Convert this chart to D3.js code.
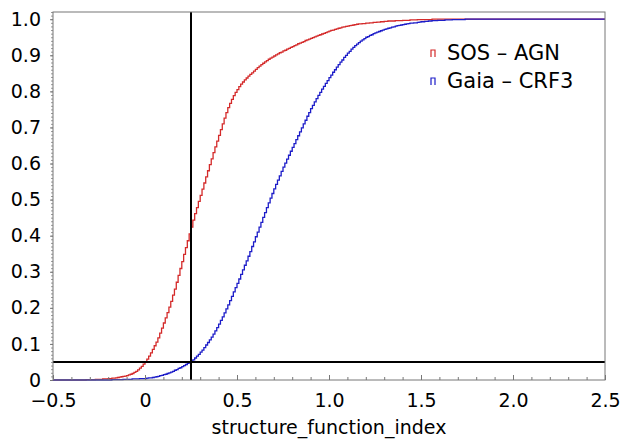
<!DOCTYPE html>
<html>
<head>
<meta charset="utf-8">
<script src="https://cdn.jsdelivr.net/npm/d3@7"></script>
<style>
  body { margin: 0; background: #fff; }
  text { font-family: "DejaVu Sans", "Liberation Sans", sans-serif; fill: #000; }
</style>
</head>
<body>
<svg id="chart" width="621" height="439"></svg>
<script>
// cumulative fraction per 0.01 bin
const binWidth = 0.01;

const sosStart = -0.34;
const sosAgn = [
  0.000, 0.000, 0.001, 0.001, 0.001, 0.001, 0.001, 0.002, 0.002, 0.002,
  0.002, 0.003, 0.003, 0.003, 0.004, 0.004, 0.005, 0.005, 0.006, 0.007,
  0.008, 0.009, 0.010, 0.011, 0.012, 0.014, 0.016, 0.018, 0.021, 0.024,
  0.028, 0.033, 0.038, 0.044, 0.050, 0.058, 0.066, 0.075, 0.085, 0.095,
  0.105, 0.117, 0.130, 0.144, 0.158, 0.172, 0.187, 0.202, 0.218, 0.235,
  0.252, 0.271, 0.290, 0.309, 0.328, 0.348, 0.367, 0.386, 0.405, 0.424,
  0.443, 0.461, 0.478, 0.495, 0.512, 0.529, 0.546, 0.563, 0.580, 0.597,
  0.613, 0.630, 0.646, 0.662, 0.678, 0.694, 0.710, 0.726, 0.741, 0.755,
  0.767, 0.778, 0.788, 0.797, 0.805, 0.813, 0.820, 0.826, 0.832, 0.837,
  0.842, 0.847, 0.851, 0.856, 0.861, 0.866, 0.870, 0.874, 0.878, 0.882,
  0.885, 0.889, 0.892, 0.895, 0.898, 0.901, 0.904, 0.907, 0.909, 0.912,
  0.914, 0.917, 0.919, 0.922, 0.924, 0.927, 0.929, 0.932, 0.934, 0.936,
  0.938, 0.941, 0.943, 0.945, 0.947, 0.949, 0.951, 0.953, 0.955, 0.957,
  0.959, 0.961, 0.963, 0.965, 0.967, 0.969, 0.970, 0.972, 0.973, 0.975,
  0.976, 0.978, 0.979, 0.980, 0.981, 0.982, 0.983, 0.984, 0.985, 0.986,
  0.987, 0.987, 0.988, 0.988, 0.989, 0.989, 0.990, 0.990, 0.991, 0.991,
  0.992, 0.992, 0.993, 0.993, 0.994, 0.994, 0.995, 0.995, 0.995, 0.995,
  0.996, 0.996, 0.996, 0.996, 0.997, 0.997, 0.997, 0.997, 0.998, 0.998,
  0.998, 0.998, 0.999, 0.999, 0.999, 0.999, 0.999, 0.999, 0.999, 0.999,
  1.000
];

const gaiaStart = -0.22;
const gaiaCrf3 = [
  0.000, 0.000, 0.000, 0.000, 0.001, 0.001, 0.001, 0.001, 0.001, 0.001,
  0.002, 0.002, 0.002, 0.002, 0.002, 0.003, 0.003, 0.003, 0.003, 0.004,
  0.004, 0.004, 0.004, 0.005, 0.006, 0.006, 0.007, 0.008, 0.009, 0.010,
  0.012, 0.013, 0.015, 0.016, 0.018, 0.020, 0.022, 0.024, 0.027, 0.029,
  0.032, 0.034, 0.037, 0.040, 0.043, 0.046, 0.049, 0.052, 0.056, 0.061,
  0.066, 0.071, 0.077, 0.083, 0.090, 0.097, 0.104, 0.111, 0.119, 0.127,
  0.136, 0.145, 0.155, 0.165, 0.175, 0.186, 0.197, 0.208, 0.220, 0.232,
  0.244, 0.256, 0.268, 0.280, 0.293, 0.305, 0.318, 0.330, 0.343, 0.356,
  0.370, 0.383, 0.397, 0.410, 0.424, 0.437, 0.451, 0.464, 0.478, 0.491,
  0.504, 0.517, 0.530, 0.542, 0.554, 0.566, 0.578, 0.590, 0.601, 0.612,
  0.623, 0.634, 0.645, 0.655, 0.666, 0.677, 0.688, 0.699, 0.710, 0.720,
  0.731, 0.741, 0.752, 0.761, 0.771, 0.780, 0.789, 0.797, 0.806, 0.814,
  0.822, 0.830, 0.838, 0.845, 0.853, 0.860, 0.867, 0.874, 0.881, 0.887,
  0.894, 0.900, 0.906, 0.911, 0.917, 0.922, 0.927, 0.931, 0.935, 0.939,
  0.943, 0.946, 0.950, 0.952, 0.955, 0.957, 0.960, 0.962, 0.964, 0.966,
  0.968, 0.970, 0.972, 0.973, 0.975, 0.976, 0.978, 0.979, 0.981, 0.982,
  0.983, 0.984, 0.985, 0.986, 0.987, 0.988, 0.989, 0.989, 0.990, 0.990,
  0.991, 0.992, 0.993, 0.993, 0.994, 0.994, 0.995, 0.995, 0.996, 0.996,
  0.996, 0.997, 0.997, 0.997, 0.997, 0.998, 0.998, 0.998, 0.998, 0.999,
  0.999, 0.999, 0.999, 0.999, 0.999, 0.999, 1.000
];

const xTicks = [-0.5, 0, 0.5, 1.0, 1.5, 2.0, 2.5];
const xTickLabels = ["\u22120.5", "0", "0.5", "1.0", "1.5", "2.0", "2.5"];
const yTicks = [0, 0.1, 0.2, 0.3, 0.4, 0.5, 0.6, 0.7, 0.8, 0.9, 1.0];
const yTickLabels = ["0", "0.1", "0.2", "0.3", "0.4", "0.5", "0.6", "0.7", "0.8", "0.9", "1.0"];

const cutX = 0.25;
const cutY = 0.05;

const seriesNames = ["SOS \u2013 AGN", "Gaia \u2013 CRF3"];
const seriesColors = ["#d42a2a", "#1c1cc8"];

// layout
const margin = { top: 12, right: 16, bottom: 59, left: 53 };
const width = 621 - margin.left - margin.right;
const height = 439 - margin.top - margin.bottom;

const x = d3.scaleLinear().domain([-0.5, 2.5]).range([0, width]);
const y = d3.scaleLinear().domain([0, 1.02]).range([height, 0]);

const svg = d3.select('#chart')
  .append('g')
  .attr('transform', `translate(${margin.left},${margin.top})`);

// turn bin values into step points
function toPoints(start, values) {
  const pts = [[-0.5, 0]];
  values.forEach((v, i) => pts.push([start + i * binWidth, v]));
  pts.push([2.5, values[values.length - 1]]);
  return pts;
}

const line = d3.line()
  .x(d => x(d[0]))
  .y(d => y(d[1]))
  .curve(d3.curveStepAfter);

const series = [toPoints(sosStart, sosAgn), toPoints(gaiaStart, gaiaCrf3)];

svg.selectAll('.curve')
  .data(series)
  .enter().append('path')
  .attr('class', 'curve')
  .attr('d', line)
  .attr('fill', 'none')
  .attr('stroke', (d, i) => seriesColors[i])
  .attr('stroke-width', 1.3);

// cut lines
svg.append('line')
  .attr('x1', x(cutX)).attr('x2', x(cutX))
  .attr('y1', 0).attr('y2', height)
  .attr('stroke', '#000').attr('stroke-width', 2);

svg.append('line')
  .attr('x1', 0).attr('x2', width)
  .attr('y1', y(cutY)).attr('y2', y(cutY))
  .attr('stroke', '#000').attr('stroke-width', 2);

// x axis: ticks pointing into the plot
const xMinor = d3.range(-0.5, 2.5001, 0.1).filter(v => Math.abs(v * 2 - Math.round(v * 2)) > 1e-6);
svg.append('g')
  .attr('transform', `translate(0,${height})`)
  .call(d3.axisBottom(x).tickValues(xMinor).tickSize(-3).tickFormat(''))
  .call(g => g.select('.domain').remove())
  .selectAll('line').attr('stroke', '#777');

const xAxis = svg.append('g')
  .attr('transform', `translate(0,${height})`)
  .call(d3.axisBottom(x).tickValues(xTicks).tickSize(-5).tickPadding(14)
    .tickFormat((d, i) => xTickLabels[i]));
xAxis.select('.domain').remove();
xAxis.selectAll('line').attr('stroke', '#777');
xAxis.selectAll('text').attr('font-size', 19).attr('fill', '#000');

// y axis: small ticks outside
const yMinor = d3.range(0, 1.0201, 0.01);
svg.append('g')
  .call(d3.axisLeft(y).tickValues(yMinor).tickSize(2).tickFormat(''))
  .call(g => g.select('.domain').remove())
  .selectAll('line').attr('stroke', '#999');

const yAxis = svg.append('g')
  .call(d3.axisLeft(y).tickValues(yTicks).tickSize(3).tickPadding(9)
    .tickFormat((d, i) => yTickLabels[i]));
yAxis.select('.domain').remove();
yAxis.selectAll('line').attr('stroke', '#777');
yAxis.selectAll('text').attr('font-size', 19).attr('fill', '#000');

// frame
svg.append('rect')
  .attr('width', width).attr('height', height)
  .attr('fill', 'none')
  .attr('stroke', '#777').attr('stroke-width', 1);

// axis title
svg.append('text')
  .attr('x', width / 2)
  .attr('y', height + 54)
  .attr('text-anchor', 'middle')
  .attr('font-size', 19)
  .text('structure_function_index');

// legend
const legend = svg.selectAll('.legend')
  .data(seriesNames)
  .enter().append('g')
  .attr('class', 'legend')
  .attr('transform', (d, i) => `translate(378,${41 + i * 28})`);

legend.append('path')
  .attr('d', 'M0,4V-3H4V4')
  .attr('fill', 'none')
  .attr('stroke', (d, i) => seriesColors[i])
  .attr('stroke-width', 1.2);

legend.append('text')
  .attr('x', 16)
  .attr('y', 7)
  .attr('font-size', 21)
  .text(d => d);
</script>
</body>
</html>
